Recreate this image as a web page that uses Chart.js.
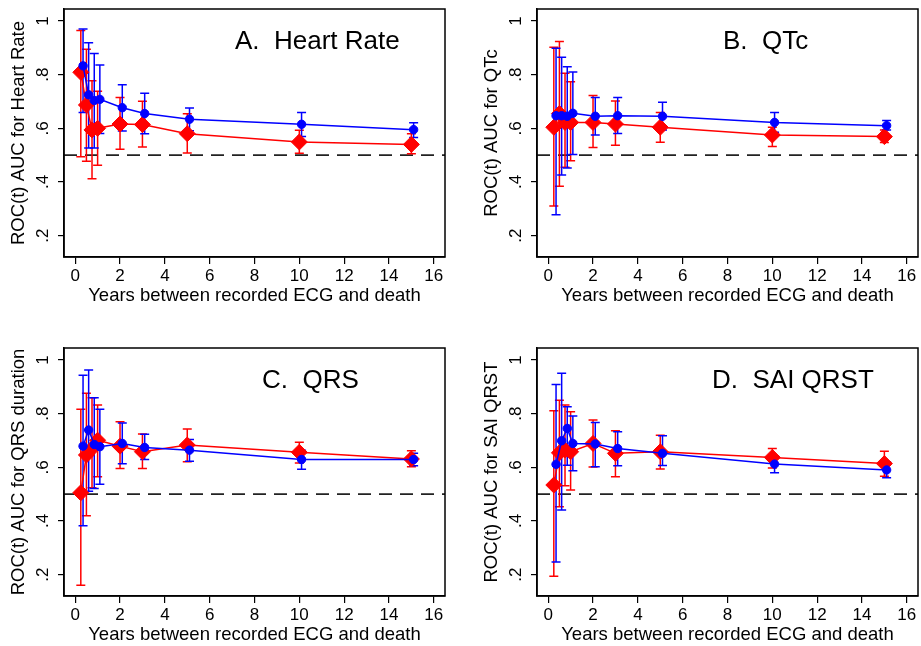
<!DOCTYPE html>
<html>
<head>
<meta charset="utf-8">
<script src="https://cdn.jsdelivr.net/npm/chart.js@4.4.0/dist/chart.umd.min.js"></script>
<style>
  body { margin: 0; background: #fff; }
  .panel { position: absolute; }
</style>
</head>
<body>
<div class="panel" style="left:0;top:0"><canvas id="c0" width="460" height="307"></canvas></div>
<div class="panel" style="left:473px;top:0"><canvas id="c1" width="460" height="307"></canvas></div>
<div class="panel" style="left:0;top:339px"><canvas id="c2" width="460" height="307"></canvas></div>
<div class="panel" style="left:473px;top:339px"><canvas id="c3" width="460" height="307"></canvas></div>
<script>
// years between ECG and death (blue estimates are drawn a little to the right)
const years = [0.25, 0.5, 0.75, 1, 2, 3, 5, 10, 15];
const blueYears = [0.35, 0.6, 0.85, 1.1, 2.1, 3.1, 5.1, 10.1, 15.1];

const panelTitles = ["A.  Heart Rate", "B.  QTc", "C.  QRS", "D.  SAI QRST"];
const yTitles = ["ROC(t) AUC for Heart Rate", "ROC(t) AUC for QTc",
                 "ROC(t) AUC for QRS duration", "ROC(t) AUC for SAI QRST"];
const xTitle = "Years between recorded ECG and death";

// A. Heart rate
const redA   = [0.809, 0.687, 0.594, 0.600, 0.616, 0.614, 0.580, 0.549, 0.540];
const redALo = [0.494, 0.477, 0.412, 0.462, 0.522, 0.530, 0.508, 0.507, 0.505];
const redAHi = [0.965, 0.895, 0.777, 0.738, 0.715, 0.701, 0.654, 0.593, 0.580];
const blueA   = [0.833, 0.725, 0.704, 0.708, 0.677, 0.655, 0.634, 0.615, 0.595];
const blueALo = [0.659, 0.527, 0.527, 0.581, 0.590, 0.580, 0.591, 0.569, 0.566];
const blueAHi = [0.970, 0.919, 0.879, 0.836, 0.762, 0.731, 0.676, 0.659, 0.621];

// B. QTc
const redB   = [0.604, 0.655, 0.622, 0.622, 0.622, 0.616, 0.604, 0.575, 0.569];
const redBLo = [0.310, 0.384, 0.455, 0.479, 0.528, 0.537, 0.548, 0.532, 0.547];
const redBHi = [0.902, 0.924, 0.805, 0.774, 0.722, 0.702, 0.659, 0.604, 0.594];
const blueB   = [0.647, 0.647, 0.645, 0.656, 0.645, 0.647, 0.645, 0.622, 0.610];
const blueBLo = [0.278, 0.426, 0.452, 0.502, 0.575, 0.581, 0.594, 0.585, 0.594];
const blueBHi = [0.899, 0.865, 0.830, 0.810, 0.715, 0.715, 0.697, 0.659, 0.629];

// C. QRS duration
const redC   = [0.505, 0.646, 0.670, 0.701, 0.679, 0.658, 0.683, 0.656, 0.631];
const redCLo = [0.160, 0.419, 0.524, 0.565, 0.596, 0.596, 0.621, 0.616, 0.602];
const redCHi = [0.817, 0.876, 0.859, 0.832, 0.770, 0.724, 0.743, 0.693, 0.662];
const blueC   = [0.679, 0.739, 0.685, 0.677, 0.689, 0.674, 0.664, 0.629, 0.629];
const blueCLo = [0.382, 0.511, 0.521, 0.537, 0.613, 0.629, 0.623, 0.593, 0.606];
const blueCHi = [0.943, 0.963, 0.859, 0.817, 0.765, 0.723, 0.704, 0.664, 0.652];

// D. SAI QRST
const redD   = [0.534, 0.654, 0.664, 0.658, 0.689, 0.652, 0.658, 0.637, 0.614];
const redDLo = [0.194, 0.453, 0.531, 0.515, 0.601, 0.565, 0.594, 0.597, 0.567];
const redDHi = [0.811, 0.850, 0.832, 0.807, 0.776, 0.736, 0.720, 0.670, 0.660];
const blueD   = [0.611, 0.699, 0.745, 0.689, 0.687, 0.670, 0.652, 0.612, 0.590];
const blueDLo = [0.247, 0.441, 0.608, 0.587, 0.602, 0.606, 0.607, 0.580, 0.561];
const blueDHi = [0.909, 0.951, 0.826, 0.791, 0.767, 0.733, 0.718, 0.642, 0.621];

const refLine = 0.5;

const FONT = "'Liberation Sans', Arial, Helvetica, sans-serif";
const RED = "#ff0000";
const BLUE = "#0000ff";

// error bars + dashed reference line, drawn under the markers
const errorBars = {
  id: "errorBars",
  beforeDatasetsDraw(chart) {
    const ctx = chart.ctx;
    const xs = chart.scales.x, ys = chart.scales.y;
    const area = chart.chartArea;
    ctx.save();
    // dashed line at 0.5
    ctx.strokeStyle = "#222";
    ctx.lineWidth = 1.6;
    ctx.setLineDash([13, 8]);
    const yr = ys.getPixelForValue(refLine);
    ctx.beginPath();
    ctx.moveTo(area.left, yr);
    ctx.lineTo(area.right, yr);
    ctx.stroke();
    ctx.setLineDash([]);

    // red bars first, blue on top
    const order = chart.data.datasets.slice().reverse();
    order.forEach(ds => {
      ctx.strokeStyle = ds.borderColor;
      ctx.lineWidth = 1.5;
      ds.data.forEach((p, i) => {
        const x = xs.getPixelForValue(p.x);
        const y1 = ys.getPixelForValue(ds.lo[i]);
        const y2 = ys.getPixelForValue(ds.hi[i]);
        ctx.beginPath();
        ctx.moveTo(x, y1); ctx.lineTo(x, y2);
        ctx.moveTo(x - 4.5, y1); ctx.lineTo(x + 4.5, y1);
        ctx.moveTo(x - 4.5, y2); ctx.lineTo(x + 4.5, y2);
        ctx.stroke();
      });
    });
    ctx.restore();
  },
  afterDraw(chart, args, opts) {
    const ctx = chart.ctx;
    const area = chart.chartArea;
    ctx.save();
    ctx.strokeStyle = "#000";
    ctx.lineWidth = 1.5;
    ctx.strokeRect(area.left, area.top, area.right - area.left, area.bottom - area.top);
    // panel label
    ctx.fillStyle = "#000";
    ctx.font = "26px " + FONT;
    ctx.textBaseline = "alphabetic";
    ctx.fillText(opts.text, area.left + opts.dx, area.top + 39.5);
    ctx.restore();
  }
};

function points(xv, yv) {
  return xv.map((x, i) => ({ x: x, y: yv[i] }));
}

function makePanel(id, idx, red, redLo, redHi, blue, blueLo, blueHi, dx) {
  new Chart(document.getElementById(id), {
    type: "scatter",
    data: {
      datasets: [
        {
          label: "blue",
          data: points(blueYears, blue),
          lo: blueLo, hi: blueHi,
          showLine: true,
          borderColor: BLUE, backgroundColor: BLUE,
          borderWidth: 1.5,
          pointStyle: "circle", pointRadius: 4.2, pointBorderWidth: 1
        },
        {
          label: "red",
          data: points(years, red),
          lo: redLo, hi: redHi,
          showLine: true,
          borderColor: RED, backgroundColor: RED,
          borderWidth: 1.5,
          pointStyle: "rectRot", pointRadius: 8, pointBorderWidth: 1
        }
      ]
    },
    options: {
      responsive: false,
      animation: false,
      events: [],
      layout: { padding: { top: 9, right: 15, left: 0, bottom: 0 } },
      plugins: {
        legend: { display: false },
        tooltip: { enabled: false },
        errorBars: { text: panelTitles[idx], dx: dx }
      },
      scales: {
        x: {
          type: "linear",
          min: -0.5, max: 16.5,
          afterFit: s => { s.height = 50; s.paddingLeft = 0; s.paddingRight = 0; },
          ticks: {
            stepSize: 2, includeBounds: false,
            color: "#000", font: { family: FONT, size: 17 }, padding: 2,
            maxRotation: 0
          },
          grid: { drawOnChartArea: false, drawTicks: true, tickLength: 7, color: "#000", lineWidth: 1.2 },
          border: { display: true, color: "#000", width: 1.5 },
          title: {
            display: true, text: xTitle, color: "#000",
            font: { family: FONT, size: 18.5 }, padding: { top: 0, bottom: 0 }
          }
        },
        y: {
          type: "linear",
          min: 0.12, max: 1.045,
          afterFit: s => { s.width = 64; s.paddingTop = 0; s.paddingBottom = 0; },
          ticks: {
            stepSize: 0.2, includeBounds: false,
            minRotation: 90, maxRotation: 90, crossAlign: "center",
            color: "#000", font: { family: FONT, size: 17 }, padding: 8,
            callback: v => (Math.abs(v - 1) < 1e-9 ? "1" : v.toFixed(1).replace(/^0/, ""))
          },
          grid: { drawOnChartArea: false, drawTicks: true, tickLength: 6, color: "#000", lineWidth: 1.2 },
          border: { display: true, color: "#000", width: 1.5 },
          title: {
            display: true, text: yTitles[idx], color: "#000",
            font: { family: FONT, size: 18.5 }, padding: { top: 8, bottom: 0 }
          }
        }
      }
    },
    plugins: [errorBars]
  });
}

makePanel("c0", 0, redA, redALo, redAHi, blueA, blueALo, blueAHi, 171);
makePanel("c1", 1, redB, redBLo, redBHi, blueB, blueBLo, blueBHi, 186);
makePanel("c2", 2, redC, redCLo, redCHi, blueC, blueCLo, blueCHi, 198);
makePanel("c3", 3, redD, redDLo, redDHi, blueD, blueDLo, blueDHi, 175);
</script>
</body>
</html>
